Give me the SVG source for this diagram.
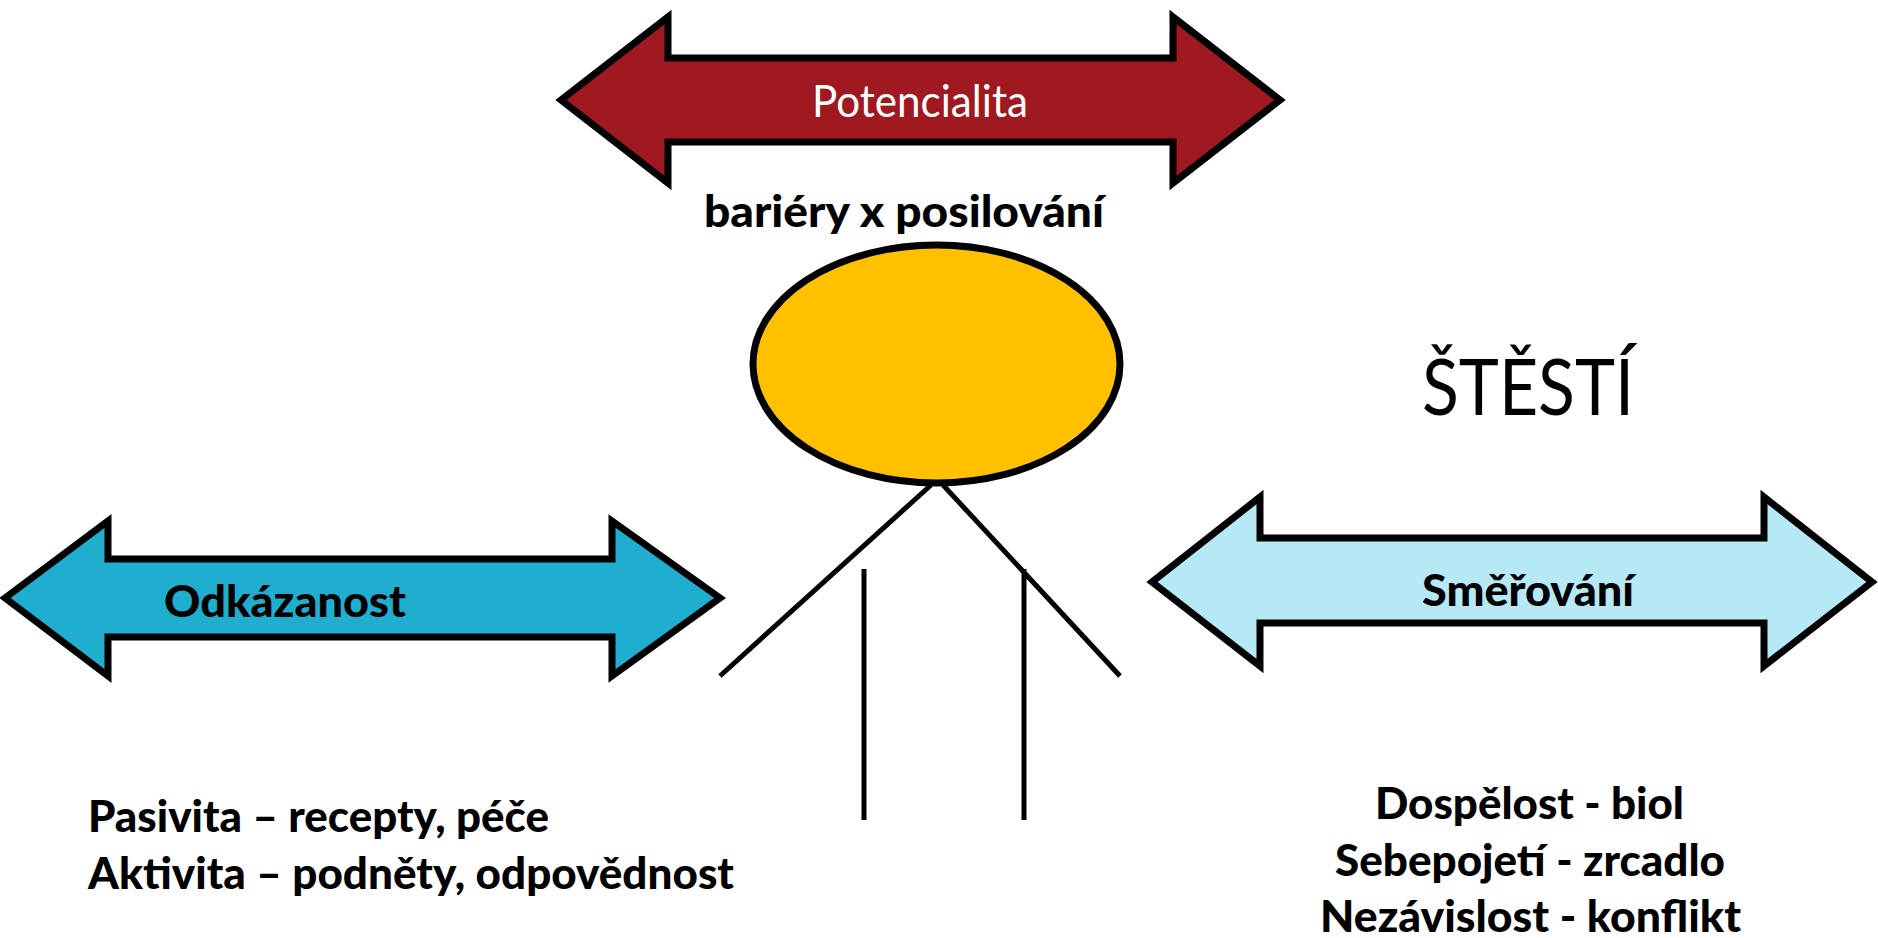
<svg xmlns="http://www.w3.org/2000/svg" width="1878" height="938" viewBox="0 0 1878 938">
<style>
.a{stroke:#000;stroke-width:7;stroke-miterlimit:10}
.l{stroke:#000;stroke-width:5;fill:none}
text{font-family:"Lato","Liberation Sans",sans-serif;fill:#000;text-anchor:start}
.b{font-weight:900;font-size:43px}
.r{font-weight:400;font-size:44px}
</style>
<rect width="1878" height="938" fill="#fff"/>
<g id="connectors">
<path class="l" d="M931 485L720 676M943 485L1120 676M864 569V820M1024 569V820"/>
</g>
<g id="potencialita">
<path class="a" fill="#A01820" d="M561 100L668 17V58H1173V17L1280 100L1173 183V142H668V183Z"/>
<text class="r" x="812" y="117" style="fill:#fff" textLength="216" lengthAdjust="spacingAndGlyphs">Potencialita</text>
</g>
<g id="bariery"><text class="b" x="704" y="227" textLength="400" lengthAdjust="spacingAndGlyphs">bariéry x posilování</text></g>
<g id="hlava"><ellipse cx="936.5" cy="364" rx="183.5" ry="119" fill="#FFC000" stroke="#000" stroke-width="7"/></g>
<g id="stesti"><text x="1422" y="415" font-size="78" textLength="212" lengthAdjust="spacingAndGlyphs">ŠTĚSTÍ</text></g>
<g id="odkazanost">
<path class="a" fill="#1FAECF" d="M5 598L108 521V559H612V521L720 598L612 676V637H108V676Z"/>
<text class="b" x="164" y="617" textLength="242" lengthAdjust="spacingAndGlyphs">Odkázanost</text>
</g>
<g id="smerovani">
<path class="a" fill="#B5E9F5" d="M1152 582L1260 497V538H1764V497L1872 582L1764 666V623H1260V666Z"/>
<text class="b" x="1422" y="606" textLength="212" lengthAdjust="spacingAndGlyphs">Směřování</text>
</g>
<g id="pasivita">
<text class="b" x="88" y="832" textLength="461" lengthAdjust="spacingAndGlyphs">Pasivita – recepty, péče</text>
<text class="b" x="88" y="889" textLength="646" lengthAdjust="spacingAndGlyphs">Aktivita – podněty, odpovědnost</text>
</g>
<g id="dospelost">
<text class="b" x="1375" y="819" textLength="309" lengthAdjust="spacingAndGlyphs">Dospělost - biol</text>
<text class="b" x="1335" y="876" textLength="390" lengthAdjust="spacingAndGlyphs">Sebepojetí - zrcadlo</text>
<text class="b" x="1320" y="932" textLength="421" lengthAdjust="spacingAndGlyphs">Nezávislost - konflikt</text>
</g>
</svg>
